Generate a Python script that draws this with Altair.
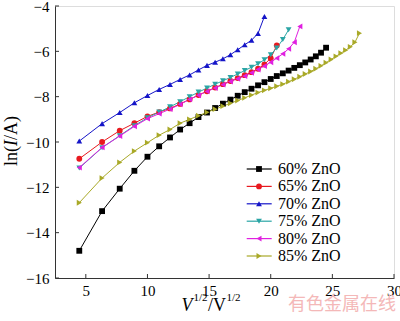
import altair as alt
import pandas as pd

# sqrt(V) values along the x axis
XS = [4.47, 6.32, 7.75, 8.94, 10.0, 10.95, 11.83, 12.65, 13.42, 14.14, 14.83, 15.49,
      16.12, 16.73, 17.32, 17.89, 18.44, 18.97, 19.49, 20.0, 20.49, 20.98, 21.45,
      21.91, 22.36, 22.80, 23.24, 23.66, 24.08, 24.49, 24.90, 25.30, 25.69, 26.08,
      26.46, 26.83, 27.20]

LABELS = ["60% ZnO", "65% ZnO", "70% ZnO", "75% ZnO", "80% ZnO", "85% ZnO"]

Y60 = [-14.80, -13.05, -12.06, -11.27, -10.65, -10.19, -9.80, -9.45, -9.17, -8.90,
       -8.70, -8.50, -8.31, -8.13, -7.96, -7.80, -7.65, -7.50, -7.36, -7.22, -7.09,
       -6.97, -6.85, -6.73, -6.61, -6.49, -6.36, -6.22, -6.06, -5.84]
Y65 = [-10.74, -10.00, -9.50, -9.17, -8.87, -8.68, -8.52, -8.32, -8.12, -7.93, -7.76,
       -7.60, -7.45, -7.31, -7.18, -7.05, -6.92, -6.77, -6.58, -6.30, -5.74]
Y70 = [-9.96, -9.19, -8.70, -8.27, -7.95, -7.68, -7.46, -7.24, -7.04, -6.82, -6.62,
       -6.48, -6.33, -6.15, -5.93, -5.71, -5.51, -5.21, -4.46]
Y75 = [-11.15, -10.25, -9.72, -9.28, -8.93, -8.68, -8.45, -8.22, -8.00, -7.80, -7.62,
       -7.45, -7.30, -7.15, -7.00, -6.85, -6.70, -6.55, -6.37, -6.15, -5.85, -5.48, -5.05]
Y80 = [-11.13, -10.24, -9.74, -9.31, -8.97, -8.75, -8.55, -8.34, -8.12, -7.94, -7.77,
       -7.62, -7.47, -7.33, -7.21, -7.09, -6.95, -6.80, -6.65, -6.48, -6.30, -6.11,
       -5.89, -5.60, -4.90]
Y85 = [-12.68, -11.59, -10.90, -10.40, -10.03, -9.70, -9.45, -9.17, -9.00, -8.84, -8.69,
       -8.55, -8.42, -8.29, -8.17, -8.05, -7.93, -7.82, -7.72, -7.63, -7.54, -7.45,
       -7.34, -7.23, -7.12, -7.00, -6.89, -6.77, -6.64, -6.50, -6.36, -6.22, -6.08,
       -5.95, -5.80, -5.60, -5.20]

X_TICKS = [5, 10, 15, 20, 25, 30]
Y_TICKS = [-4, -6, -8, -10, -12, -14, -16]

COLORS = ["#000000", "#e8191f", "#1515c8", "#2aa5a5", "#e020e0", "#a9a928"]
SHAPES = ["square", "circle", "triangle-up", "triangle-down", "triangle-left", "triangle-right"]

W, H = 339, 272
FONT = "Liberation Serif"

rows = []
for i, (lab, ys) in enumerate(zip(LABELS, [Y60, Y65, Y70, Y75, Y80, Y85])):
    for x, y in zip(XS, ys):
        rows.append({"series": lab, "k": i, "x": x, "y": y})
df = pd.DataFrame(rows)

xs = alt.Scale(domain=[2.5, 30], nice=False, zero=False)
ys_ = alt.Scale(domain=[-16, -4], nice=False, zero=False)
cs = alt.Scale(domain=LABELS, range=COLORS)
ss = alt.Scale(domain=LABELS, range=SHAPES)

xaxis = alt.Axis(values=X_TICKS, ticks=False, grid=False, labelFont=FONT,
                 labelFontSize=15, labelColor="#000", labelPadding=5,
                 domainColor="#333", labelFlush=False)
yaxis = alt.Axis(values=Y_TICKS, ticks=False, grid=False, labelFont=FONT,
                 labelFontSize=15, labelColor="#000", labelPadding=6,
                 domainColor="#333")

base = alt.Chart(df).encode(
    x=alt.X("x:Q", scale=xs, title=None, axis=xaxis),
    y=alt.Y("y:Q", scale=ys_, title=None, axis=yaxis),
    color=alt.Color("series:N", scale=cs, legend=None),
)

lines = base.mark_line(strokeWidth=1).encode(detail="series:N", order="x:Q")
points = base.mark_point(filled=True, size=34, opacity=1).encode(
    shape=alt.Shape("series:N", scale=ss, legend=None))

# inward ticks
xt = alt.Chart(pd.DataFrame({"x": X_TICKS})).mark_rule(color="#333").encode(
    x=alt.X("x:Q", scale=xs, title=None, axis=xaxis), y=alt.value(H), y2=alt.value(H - 4))
yt = alt.Chart(pd.DataFrame({"y": Y_TICKS})).mark_rule(color="#333").encode(
    y=alt.Y("y:Q", scale=ys_, title=None, axis=yaxis), x=alt.value(0), x2=alt.value(4))

# legend
leg = pd.DataFrame({"series": LABELS, "i": list(range(len(LABELS)))})
leg["py"] = 163 + leg["i"] * 17.4
leg["lx1"] = 191.7
leg["lx2"] = 216.7
leg["mx"] = 204.0
leg["tx"] = 223.0
lbase = alt.Chart(leg).encode(
    y=alt.Y("py:Q", scale=None, title=None),
    color=alt.Color("series:N", scale=cs, legend=None))
leg_line = lbase.mark_rule(strokeWidth=1.2).encode(
    x=alt.X("lx1:Q", scale=None, title=None), x2="lx2:Q")
leg_pt = lbase.mark_point(filled=True, size=34, opacity=1).encode(
    x=alt.X("mx:Q", scale=None, title=None),
    shape=alt.Shape("series:N", scale=ss, legend=None))
leg_txt = alt.Chart(leg).mark_text(align="left", baseline="middle", font=FONT,
                                   fontSize=16, color="#000").encode(
    x=alt.X("tx:Q", scale=None, title=None),
    y=alt.Y("py:Q", scale=None, title=None), text="series:N")

# axis titles composed of pieces
def txt(t, x, y, size=18, style="normal", angle=0, baseline="alphabetic"):
    return alt.Chart(pd.DataFrame({"t": [t]})).mark_text(
        align="left", baseline=baseline, font=FONT, fontSize=size, fontStyle=style,
        angle=angle, color="#000").encode(x=alt.value(x), y=alt.value(y), text="t:N")

xt1 = txt("V", 126.5, 305, 18, "italic")
xt2 = txt("1/2", 138.5, 294.5, 11)
xt3 = txt("/V", 153.0, 305, 18)
xt4 = txt("1/2", 171.5, 294.5, 11)

yt1 = txt("ln(", -43, 160, 18, "normal", 270, "middle")
yt2 = txt("I", -43, 140, 18, "italic", 270, "middle")
yt3 = txt("/A)", -43, 134, 18, "normal", 270, "middle")

wm = alt.Chart(pd.DataFrame({"t": ["有色金属在线"]})).mark_text(
    align="center", baseline="middle", font="Noto Sans CJK SC", fontSize=18,
    color="#f4b8b8").encode(x=alt.value(287), y=alt.value(299), text="t:N")

chart = alt.layer(
    lines, points, xt, yt, leg_line, leg_pt, leg_txt,
    xt1, xt2, xt3, xt4, yt1, yt2, yt3, wm
).properties(
    width=W, height=H,
    autosize=alt.AutoSizeParams(type="none"),
    padding={"left": 55, "top": 6, "right": 6, "bottom": 43},
).configure_view(stroke="#555", strokeWidth=1).configure_axis(
    labelFont=FONT, labelFontSize=15, labelColor="#000"
).configure(background="white")

chart.save("out.html", embed_options={"renderer": "svg", "actions": False})
